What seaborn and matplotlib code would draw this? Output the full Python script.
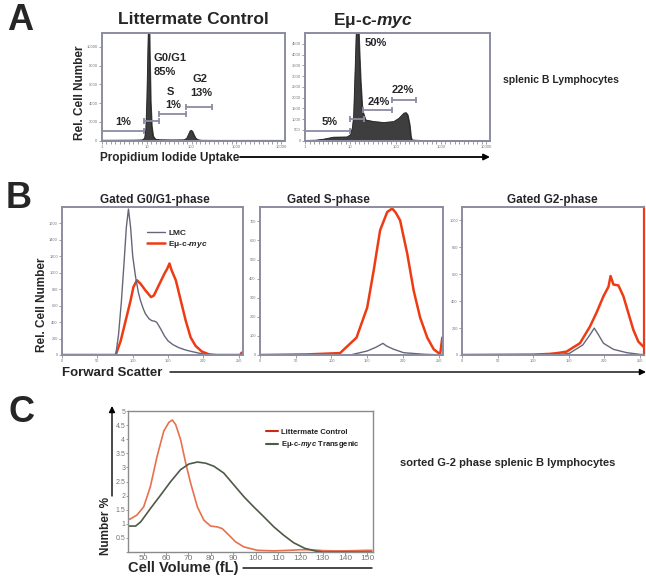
import matplotlib
matplotlib.use("Agg")
import numpy as np
import pandas as pd
import matplotlib.pyplot as plt
import seaborn as sns
from matplotlib.patches import FancyArrowPatch
from matplotlib.ticker import MultipleLocator

# ---------------------------------------------------------------------------
#  Data
# ---------------------------------------------------------------------------

# A: propidium iodide histograms (channel, counts)
ctrl_pi_x = [0, 60, 120, 180, 230, 245, 252, 258, 263, 267, 270, 274, 278, 284,
             292, 305, 330, 400, 470, 485, 495, 503, 510, 516, 524, 535, 550,
             570, 650, 800, 1045]
ctrl_pi_y = [40, 45, 50, 55, 70, 250, 1200, 4500, 9000, 12500, 12500, 8000,
             4200, 1600, 500, 160, 90, 70, 80, 250, 650, 1000, 1100, 1000, 650,
             250, 80, 40, 30, 30, 30]

myc_pi_x = [0, 60, 104, 161, 237, 256, 268, 275, 284, 292, 300, 306, 313, 323,
            341, 389, 445, 502, 531, 559, 570, 579, 590, 597, 603, 650, 1045]
myc_pi_y = [10, 20, 65, 160, 170, 265, 600, 1120, 3440, 5600, 5600, 4200, 2820,
            1430, 960, 885, 840, 885, 1040, 1275, 1300, 1200, 750, 200, 30, 10, 10]

# gates: (start, end, height)
ctrl_gates = [(0, 241, 1030), (241, 328, 2095), (328, 483, 2810), (483, 626, 3550)]
myc_gates = [(0, 256, 465), (252, 333, 1010), (328, 493, 1430), (493, 626, 1890)]

# B: forward scatter histograms
g1_lmc_x = [0, 76, 80, 84, 88, 91, 94, 97, 100, 104, 108, 111, 115, 118, 123,
            127, 131, 134, 138, 141, 145, 150, 157, 165, 175, 184, 194, 203, 215, 256]
g1_lmc_y = [0, 0, 250, 650, 1150, 1550, 1770, 1550, 1200, 950, 760, 660, 560,
            500, 440, 416, 410, 396, 340, 294, 230, 171, 125, 90, 60, 41, 22, 8, 2, 0]
g1_myc_x = [0, 76, 83, 90, 97, 101, 106, 111, 118, 126, 130, 138, 145, 149, 152,
            155, 161, 168, 175, 182, 189, 198, 208, 218, 252, 254, 256]
g1_myc_y = [0, 0, 171, 416, 661, 824, 906, 865, 784, 702, 722, 865, 988, 1049,
            1110, 1028, 906, 661, 416, 212, 110, 41, 8, 0, 0, 28, 0]

s_lmc_x = [0, 126, 150, 163, 172, 177, 187, 201, 229, 256]
s_lmc_y = [0, 0, 21, 42, 61, 47, 30, 12, 4, 0]
s_myc_x = [0, 65, 112, 135, 150, 159, 168, 178, 185, 190, 196, 206, 215, 224,
           234, 243, 252, 255, 256]
s_myc_y = [0, 3, 10, 91, 249, 442, 653, 749, 767, 745, 705, 530, 337, 196, 91,
           30, 4, 91, 91]

g2_lmc_x = [0, 130, 151, 170, 180, 186, 192, 199, 213, 232, 250, 256]
g2_lmc_y = [0, 0, 12, 75, 150, 200, 150, 87, 42, 17, 5, 2]
g2_myc_x = [0, 100, 123, 135, 147, 166, 180, 189, 199, 206, 209, 213, 220, 227,
            234, 241, 248, 255]
g2_myc_y = [0, 3, 8, 15, 25, 88, 212, 312, 437, 507, 587, 524, 517, 437, 312,
            187, 100, 62]

# C: cell volume distributions
ctrl_vol_x = [43, 44, 47, 50, 53, 56, 59, 61.3, 62.8, 64.3, 66.5, 68.8, 71, 74,
              76.9, 79.9, 82.9, 85.1, 88.1, 91.1, 94.8, 100.8, 108.2, 115, 120,
              125, 130, 135, 140, 145, 150, 152]
ctrl_vol_y = [1.15, 1.17, 1.31, 1.6, 2.32, 3.39, 4.29, 4.6, 4.68, 4.52, 3.99,
              3.15, 2.44, 1.6, 1.13, 0.92, 0.89, 0.83, 0.6, 0.36, 0.18, 0.06,
              0.04, 0.06, 0.08, 0.08, 0.05, 0.04, 0.04, 0.05, 0.06, 0.06]
myc_vol_x = [43, 46.4, 48.7, 53.1, 57.6, 62.1, 66.5, 70.2, 74, 77.7, 81.4, 85.8,
             90.3, 94.8, 99.2, 103.7, 108.2, 112.5, 117, 122, 127, 130, 140, 152]
myc_vol_y = [0.92, 0.92, 1.07, 1.55, 2.02, 2.5, 2.92, 3.12, 3.19, 3.15, 3.04,
             2.8, 2.38, 1.96, 1.6, 1.25, 0.89, 0.6, 0.33, 0.13, 0.03, 0.0, 0.0, 0.0]

pi_xticks = [0, 256, 512, 768, 1024]
pi_xlabels = ["1", "10", "100", "1000", "10000"]
fsc_xticks = [0, 50, 100, 150, 200, 250]
vol_xticks = [50, 60, 70, 80, 90, 100, 110, 120, 130, 140, 150]

# ---------------------------------------------------------------------------
#  Style helpers
# ---------------------------------------------------------------------------

sns.set_theme(style="ticks")
plt.rcParams["font.family"] = ["Liberation Sans", "DejaVu Sans"]
plt.rcParams["mathtext.fontset"] = "custom"
plt.rcParams["mathtext.rm"] = "Liberation Sans:bold"
plt.rcParams["mathtext.it"] = "Liberation Sans:italic:bold"

W, H = 646, 579
fig = plt.figure(figsize=(W / 100, H / 100), dpi=100)

FRAME = "#8c8ca2"
RED = "#ee3b14"
GREY = "#66667a"
ORANGE = "#e8704c"
OLIVE = "#4d5a47"
MYC = "E\u03bc-c-$\\it{myc}$"


def px_axes(l, t, r, b):
    return fig.add_axes([l / W, 1 - b / H, (r - l) / W, (b - t) / H])


def ftext(x, y, s, **kw):
    kw.setdefault("ha", "center")
    kw.setdefault("va", "center")
    fig.text(x / W, 1 - y / H, s, **kw)


def farrow(x0, y0, x1, y1, head=True, lw=1.3):
    fig.add_artist(FancyArrowPatch((x0 / W, 1 - y0 / H), (x1 / W, 1 - y1 / H),
                                   transform=fig.transFigure,
                                   arrowstyle="-|>" if head else "-",
                                   mutation_scale=9, lw=lw, color="black",
                                   shrinkA=0, shrinkB=0))


def frame(ax, color=FRAME, lw=1.4, labelsize=3.2):
    for s in ax.spines.values():
        s.set_visible(True)
        s.set_color(color)
        s.set_linewidth(lw)
    ax.tick_params(axis="both", which="both", direction="out", length=2,
                   width=0.5, color="#777777", labelsize=labelsize,
                   labelcolor="#777777", pad=1)
    ax.set_xlabel("")
    ax.set_ylabel("")


# ---------------------------------------------------------------------------
#  Panel A
# ---------------------------------------------------------------------------

pi_panels = [
    (px_axes(101.7, 33, 285, 140.7), ctrl_pi_x, ctrl_pi_y, ctrl_gates, 11460, 2000, 10000),
    (px_axes(305, 33, 490, 140.7), myc_pi_x, myc_pi_y, myc_gates, 5000, 500, 4500),
]
for ax, x, y, gates, ytop, ystep, ymax in pi_panels:
    sns.lineplot(x=x, y=y, ax=ax, color="#2a2a2a", lw=0.7)
    ax.fill_between(x, y, color="#3e3e3e")
    for x0, x1, gy in gates:
        ax.plot([x0, x1], [gy, gy], color=FRAME, lw=1.3, marker="|", ms=5, mew=1.3)
    ax.set_xlim(0, 1045)
    ax.set_ylim(0, ytop)
    ax.set_xticks(pi_xticks)
    ax.set_xticklabels(pi_xlabels)
    ax.xaxis.set_minor_locator(MultipleLocator(25.6))
    yt = list(range(0, ymax + 1, ystep))
    ax.set_yticks(yt)
    ax.set_yticklabels([str(v) for v in yt])
    frame(ax, labelsize=3.0)

axA1, axA2 = pi_panels[0][0], pi_panels[1][0]
lab = dict(fontsize=8, fontweight="bold", ha="center", va="center")
axA1.text(298, 8800, "G0/G1", **dict(lab, ha="left"))
axA1.text(298, 7300, "85%", **dict(lab, ha="left"))
axA1.text(392, 5200, "S", **lab)
axA1.text(410, 3850, "1%", **lab)
axA1.text(560, 6560, "G2", **lab)
axA1.text(570, 5060, "13%", **lab)
axA1.text(124, 1990, "1%", **lab)
axA2.text(398, 4530, "50%", **lab)
axA2.text(417, 1790, "24%", **lab)
axA2.text(552, 2360, "22%", **lab)
axA2.text(138, 884, "5%", **lab)

ftext(20, 21, "A", fontsize=26, fontweight="bold")
ftext(193, 20, "Littermate Control", fontsize=12.5, fontweight="bold")
ftext(373, 20, MYC, fontsize=12.5, fontweight="bold")
ftext(80, 93, "Rel. Cell Number", fontsize=8.5, fontweight="bold", rotation=90)
ftext(100, 158, "Propidium Iodide Uptake", fontsize=8.5, fontweight="bold", ha="left")
farrow(240, 157, 490, 157)
ftext(503, 80, "splenic B Lymphocytes", fontsize=7.5, fontweight="bold", ha="left")

# ---------------------------------------------------------------------------
#  Panel B
# ---------------------------------------------------------------------------

fsc_panels = [
    (px_axes(62, 207, 243, 355), g1_lmc_x, g1_lmc_y, g1_myc_x, g1_myc_y, 1795, 200, 1600),
    (px_axes(260, 207, 443, 355), s_lmc_x, s_lmc_y, s_myc_x, s_myc_y, 775, 100, 700),
    (px_axes(462, 207, 644, 355), g2_lmc_x, g2_lmc_y, g2_myc_x, g2_myc_y, 1100, 200, 1000),
]
for ax, lx, ly, mx, my, ytop, ystep, ymax in fsc_panels:
    sns.lineplot(x=mx, y=my, ax=ax, color=RED, lw=1.8, label=MYC)
    sns.lineplot(x=lx, y=ly, ax=ax, color=GREY, lw=1.0, label="LMC")
    ax.set_xlim(0, 256)
    ax.set_ylim(0, ytop)
    ax.set_xticks(fsc_xticks)
    yt = list(range(0, ymax + 1, ystep))
    ax.set_yticks(yt)
    frame(ax, labelsize=2.8)
    ax.get_legend().remove()

axB1 = fsc_panels[0][0]
h, l = axB1.get_legend_handles_labels()
leg = axB1.legend(h[::-1], l[::-1], loc="upper left", bbox_to_anchor=(0.45, 0.87),
                  frameon=False, fontsize=6, handlelength=2.2, handletextpad=0.4,
                  labelspacing=0.15, borderaxespad=0)
for t in leg.get_texts():
    t.set_fontweight("bold")
fsc_panels[2][0].spines["right"].set_color(RED)
fsc_panels[2][0].spines["right"].set_linewidth(1.6)

ftext(19, 199, "B", fontsize=26, fontweight="bold")
ftext(155, 200, "Gated G0/G1-phase", fontsize=8.5, fontweight="bold")
ftext(328, 200, "Gated S-phase", fontsize=8.5, fontweight="bold")
ftext(552, 200, "Gated G2-phase", fontsize=8.5, fontweight="bold")
ftext(42, 305, "Rel. Cell Number", fontsize=8.5, fontweight="bold", rotation=90)
ftext(62, 373, "Forward Scatter", fontsize=9.5, fontweight="bold", ha="left")
farrow(170, 372, 646, 372, lw=1.0)

# ---------------------------------------------------------------------------
#  Panel C
# ---------------------------------------------------------------------------

axC = px_axes(128, 411, 373, 552)
vol = pd.concat([
    pd.DataFrame({"vol": ctrl_vol_x, "pct": ctrl_vol_y, "group": "Littermate Control"}),
    pd.DataFrame({"vol": myc_vol_x, "pct": myc_vol_y, "group": MYC + " Transgenic"}),
])
sns.lineplot(data=vol, x="vol", y="pct", hue="group", ax=axC, lw=1.2,
             palette=[ORANGE, OLIVE], estimator=None, sort=False)
axC.set_xlim(43, 152.5)
axC.set_ylim(0, 5)
axC.set_xticks(vol_xticks)
yt = [0, 0.5, 1, 1.5, 2, 2.5, 3, 3.5, 4, 4.5, 5]
axC.set_yticks(yt)
axC.set_yticklabels([""] + [f"{v:g}" for v in yt[1:]])
frame(axC, color="#8a8a8a", lw=1.0, labelsize=5)
axC.tick_params(axis="y", length=1.5, pad=0.5)
axC.tick_params(axis="x", labelsize=6, pad=0.5)
leg = axC.legend(loc="upper left", bbox_to_anchor=(0.55, 0.9), frameon=False,
                 fontsize=5.5, handlelength=1.6, handletextpad=0.4,
                 labelspacing=0.5, borderaxespad=0, title=None)
for t in leg.get_texts():
    t.set_fontweight("bold")
    t.set_color("#222222")
for line, c in zip(leg.get_lines(), ["#cc2a10", OLIVE]):
    line.set_color(c)
    line.set_linewidth(1.5)

ftext(21, 413, "C", fontsize=26, fontweight="bold")
ftext(106, 526, "Number %", fontsize=8.5, fontweight="bold", rotation=90)
farrow(112, 496, 112, 406, lw=1.0)
ftext(128, 568, "Cell Volume (fL)", fontsize=10.5, fontweight="bold", ha="left")
farrow(243, 568, 372, 568, head=False, lw=1.0)
ftext(400, 463, "sorted G-2 phase splenic B lymphocytes", fontsize=8,
      fontweight="bold", ha="left")

fig.savefig("out.png", dpi=100, facecolor="white")
